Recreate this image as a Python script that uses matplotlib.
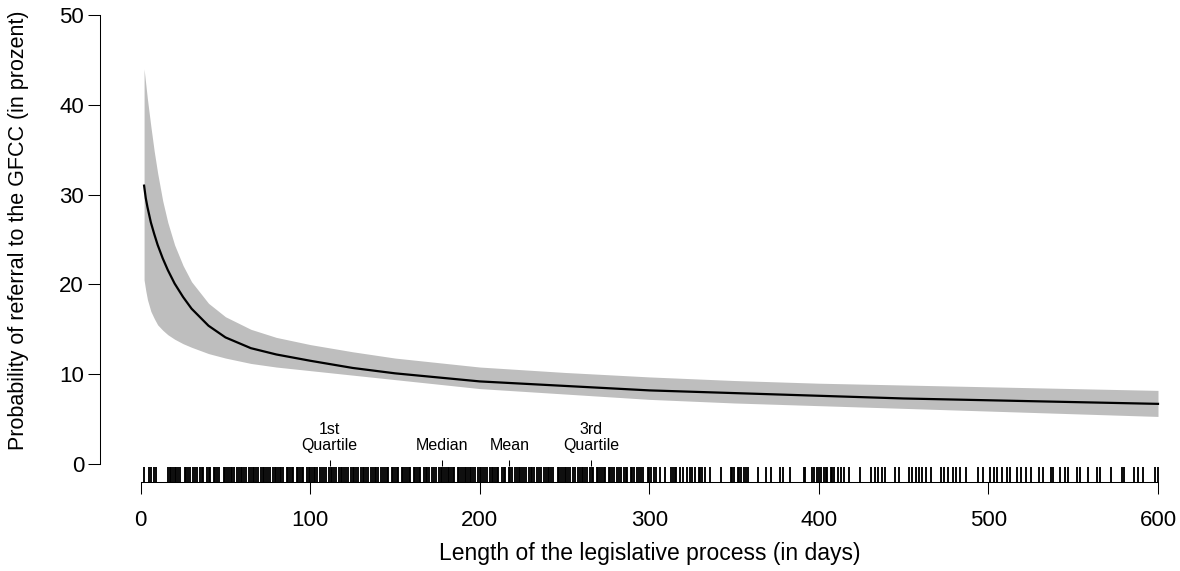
import numpy as np
import matplotlib
matplotlib.use("Agg")
import matplotlib.pyplot as plt

plt.rcParams['font.family'] = ['Liberation Sans', 'DejaVu Sans']

# fitted probability curve (in percent) with confidence band
days = [2, 3, 4, 6, 8, 10, 13, 16, 20, 25, 30, 40, 50, 65, 80, 100, 125, 150,
        200, 250, 300, 350, 400, 450, 500, 550, 600]
fit = [31.0, 29.6, 28.6, 26.9, 25.6, 24.4, 22.9, 21.6, 20.1, 18.6, 17.3, 15.4, 14.1,
       12.9, 12.2, 11.5, 10.7, 10.1, 9.2, 8.7, 8.2, 7.9, 7.6, 7.3, 7.1, 6.9, 6.7]
upper = [44.0, 42.3, 40.6, 37.6, 34.8, 32.4, 29.3, 26.9, 24.4, 22.1, 20.3, 17.9, 16.4,
         15.0, 14.1, 13.3, 12.5, 11.8, 10.8, 10.2, 9.7, 9.3, 9.0, 8.8, 8.6, 8.4, 8.2]
lower = [20.5, 19.3, 18.3, 17.0, 16.2, 15.5, 14.9, 14.4, 13.9, 13.4, 13.0, 12.3, 11.8,
         11.2, 10.8, 10.4, 9.9, 9.4, 8.4, 7.8, 7.2, 6.8, 6.5, 6.2, 5.9, 5.6, 5.3]

# observed process lengths (rug)
rug_days = [
    2, 5, 6, 8, 9, 16, 17, 18, 19, 20, 21, 22, 23, 26, 27, 28, 29, 31, 32, 33,
    35, 36, 37, 39, 40, 41, 43, 44, 45, 46, 49, 50, 51, 52, 53, 54, 55, 57, 58,
    59, 60, 61, 62, 64, 65, 66, 67, 68, 69, 71, 72, 73, 74, 75,
    76, 78, 79, 80, 81, 82, 83, 84, 86, 87, 88, 89, 90, 92, 93, 94, 95, 96, 98,
    99, 100, 101, 102, 103, 104, 106, 107, 108, 109, 111, 112, 113, 114, 115,
    117, 118, 119, 120, 121, 122, 124, 125, 126, 127, 128, 130, 131, 132, 133,
    134, 136, 137, 138, 139, 140, 142, 143, 144, 145, 146, 148, 149, 150,
    151, 152, 154, 155, 156, 157, 158, 159, 161, 162, 163, 164, 165, 167, 168,
    169, 170, 172, 173, 174, 176, 177, 178, 179, 180, 181, 182, 183, 184, 185,
    187, 188, 189, 190, 191, 192, 193, 194, 195, 196, 197, 199, 200, 201, 202,
    203, 204, 206, 207, 208, 209, 210, 211, 213, 214, 215, 217, 218, 219, 221,
    222, 223, 224, 225,
    226, 227, 229, 230, 231, 232, 234, 235, 236, 238, 239, 240, 241, 242, 243,
    246, 247, 248, 249, 250, 251, 252, 253, 255, 256, 258, 259, 260, 261, 262,
    263, 265, 266, 267, 269, 270, 271, 272, 273, 274, 276, 277, 278, 279, 281,
    282, 283, 285, 286, 287, 289, 290, 291, 293, 294, 295, 296, 299, 300,
    301, 303, 304, 306, 309, 313, 314, 315, 316, 318, 320, 322, 324, 325, 327,
    329, 330, 331, 333, 336, 342, 348, 349, 350, 352, 353, 354, 356, 357, 358,
    364, 369, 372,
    377, 379, 383, 391, 392, 396, 397, 399, 400, 401, 403, 404, 405, 407, 408,
    409, 411, 413, 415, 418, 424, 431, 433, 435, 437, 439, 445, 447,
    453, 455, 457, 459, 461, 463, 466, 472, 474, 476, 479, 481, 483, 487, 494,
    497, 501, 503, 505, 508, 511, 513, 517, 519, 522, 525,
    530, 532, 537, 538, 542, 545, 547, 552, 554, 559, 564, 566, 572, 579, 580,
    586, 588, 591, 598, 600,
]

# summary statistics of the process length
stat_labels = ['1st\nQuartile', 'Median', 'Mean', '3rd\nQuartile']
stat_values = [111.5, 177.5, 217.5, 265.5]

XMIN, XMAX = -24, (1170 - 141) / 1.695
YMIN, YMAX = -2, 50.5

fig = plt.figure(figsize=(11.8, 5.71), dpi=100)
ax = fig.add_axes([100 / 1180, 89 / 571, 1070 / 1180, 471.5 / 571])

ax.fill_between(days, lower, upper, color='#bebebe', linewidth=0)
ax.plot(days, fit, color='black', linewidth=1.6)

# rug along the x axis line
ax.vlines(rug_days, -2, -0.38, color='black', linewidth=1.35)

# quartile / median / mean markers
for lab, v in zip(stat_labels, stat_values):
    ax.vlines(v, -0.2, 0.45, color='black', linewidth=0.75)
    ax.text(v, 1.2, lab, ha='center', va='bottom', fontsize=11.5, linespacing=1.1)

ax.set_xlim(XMIN, XMAX)
ax.set_ylim(YMIN, YMAX)

for s in ['top', 'right']:
    ax.spines[s].set_visible(False)
ax.spines['left'].set_bounds(0, 50)
ax.spines['bottom'].set_bounds(0, 600)
ax.spines['left'].set_linewidth(0.75)
ax.spines['bottom'].set_linewidth(0.75)

ax.set_xticks([0, 100, 200, 300, 400, 500, 600])
ax.set_yticks([0, 10, 20, 30, 40, 50])
ax.tick_params(direction='out', length=8.5, width=0.75, labelsize=16)
ax.tick_params(axis='x', pad=12)
ax.tick_params(axis='y', pad=3)

ax.set_xlabel('Length of the legislative process (in days)', fontsize=16.5)
ax.set_ylabel('Probability of referral to the GFCC (in prozent)', fontsize=15.5)
# centre the titles on the plotting region
ax.xaxis.set_label_coords((300 - XMIN) / (XMAX - XMIN), -0.128)
ax.yaxis.set_label_coords(-0.066, (25 - YMIN) / (YMAX - YMIN) + 0.02)

fig.savefig('out.png', dpi=100)
